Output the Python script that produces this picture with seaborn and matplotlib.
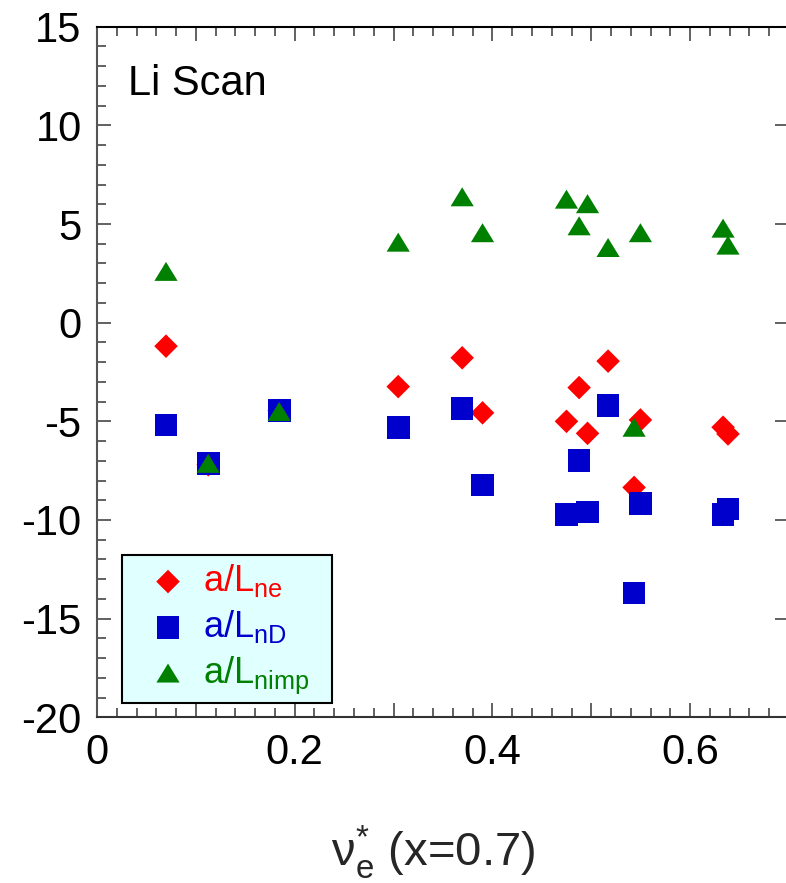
import matplotlib
matplotlib.use("Agg")
import matplotlib.pyplot as plt
import pandas as pd
import seaborn as sns
from matplotlib.ticker import MultipleLocator, FuncFormatter

# Electron collisionality at x=0.7 for each discharge of the Li scan
nu_e = [0.0698, 0.1125, 0.1843, 0.3047, 0.3694, 0.3900, 0.4749,
        0.4877, 0.4962, 0.5170, 0.5433, 0.5497, 0.6333, 0.6383]
# Normalised density gradients
aL_ne = [-1.19, -7.20, -4.45, -3.24, -1.78, -4.57, -5.00,
         -3.29, -5.61, -1.95, -8.35, -4.93, -5.30, -5.64]
aL_nD = [-5.18, -7.13, -4.46, -5.30, -4.34, -8.23, -9.71,
         -7.00, -9.59, -4.20, -13.70, -9.17, -9.71, -9.45]
aL_nimp = [2.60, -7.13, -4.50, 4.08, 6.38, 4.56, 6.26,
           4.91, 6.03, 3.81, -5.30, 4.56, 4.79, 3.93]

series_labels = ["a/L$_{ne}$", "a/L$_{nD}$", "a/L$_{nimp}$"]
series_colors = ["#ff0000", "#0000cc", "#008000"]

sns.set_theme(style="ticks")
plt.rcParams["font.family"] = ["Liberation Sans", "DejaVu Sans"]
plt.rcParams["mathtext.default"] = "regular"
plt.rcParams["axes.unicode_minus"] = False

fig = plt.figure(figsize=(7.86, 8.83), dpi=100)
ax = fig.add_axes([97 / 786, (883 - 717.3) / 883, 692 / 786, 690.6 / 883])

df = pd.DataFrame({"nu": nu_e, "ne": aL_ne, "nD": aL_nD, "nimp": aL_nimp})

# slightly flattened triangle marker
tri = [(-1.0, -0.82), (1.0, -0.82), (0.0, 0.82), (-1.0, -0.82)]

sns.scatterplot(data=df, x="nu", y="ne", marker="D", s=12.0 ** 2,
                color=series_colors[0], edgecolor="none", linewidth=0,
                label=series_labels[0], ax=ax, zorder=3)
sns.scatterplot(data=df, x="nu", y="nD", marker="s", s=16.3 ** 2,
                color=series_colors[1], edgecolor="none", linewidth=0,
                label=series_labels[1], ax=ax, zorder=4)
sns.scatterplot(data=df, x="nu", y="nimp", marker=tri, s=16.7 ** 2,
                color=series_colors[2], edgecolor="none", linewidth=0,
                label=series_labels[2], ax=ax, zorder=5)

ax.set_xlim(0, 0.7)
ax.set_ylim(-20, 15)

ax.xaxis.set_major_locator(MultipleLocator(0.1))
ax.xaxis.set_minor_locator(MultipleLocator(0.02))
ax.xaxis.set_major_formatter(FuncFormatter(
    lambda v, p: f"{v:g}" if round(v * 10) % 2 == 0 else ""))
ax.yaxis.set_major_locator(MultipleLocator(5))
ax.yaxis.set_minor_locator(MultipleLocator(1))
ax.yaxis.set_major_formatter(FuncFormatter(lambda v, p: f"{v:g}"))

ax.tick_params(axis="both", which="both", direction="in",
               top=True, right=True, colors="#555555", labelcolor="black")
ax.tick_params(axis="both", which="major", length=10, width=1.3,
               labelsize=30)
ax.tick_params(axis="both", which="minor", length=6.5, width=1.3)
ax.tick_params(axis="y", which="minor", right=False)
ax.tick_params(axis="x", which="major", pad=11)
ax.tick_params(axis="y", which="major", pad=11)

for side, col in [("top", "black"), ("bottom", "#333333"),
                  ("left", "#555555"), ("right", "#555555")]:
    ax.spines[side].set_visible(True)
    ax.spines[side].set_color(col)
    ax.spines[side].set_linewidth(1.5)

ax.set_ylabel("")
ax.set_xlabel("ν$^{*}_{e}$ (x=0.7)", fontsize=34)
ax.xaxis.set_label_coords(0.486, -0.153)

ax.text(0.045, 0.901, "Li Scan", transform=ax.transAxes, fontsize=30,
        ha="left", va="baseline", color="black")

leg = ax.legend(loc="lower left",
                bbox_to_anchor=(0.0366, 0.0211, 0.3026, 0.2),
                mode="expand", borderaxespad=0, frameon=True,
                fancybox=False, facecolor="#e0ffff", edgecolor="black",
                framealpha=1, fontsize=26, labelcolor=series_colors,
                handletextpad=-0.1, labelspacing=0.25, borderpad=0.2,
                handlelength=2.13)
leg.get_frame().set_linewidth(1.5)

fig.savefig("out.png", dpi=100)
